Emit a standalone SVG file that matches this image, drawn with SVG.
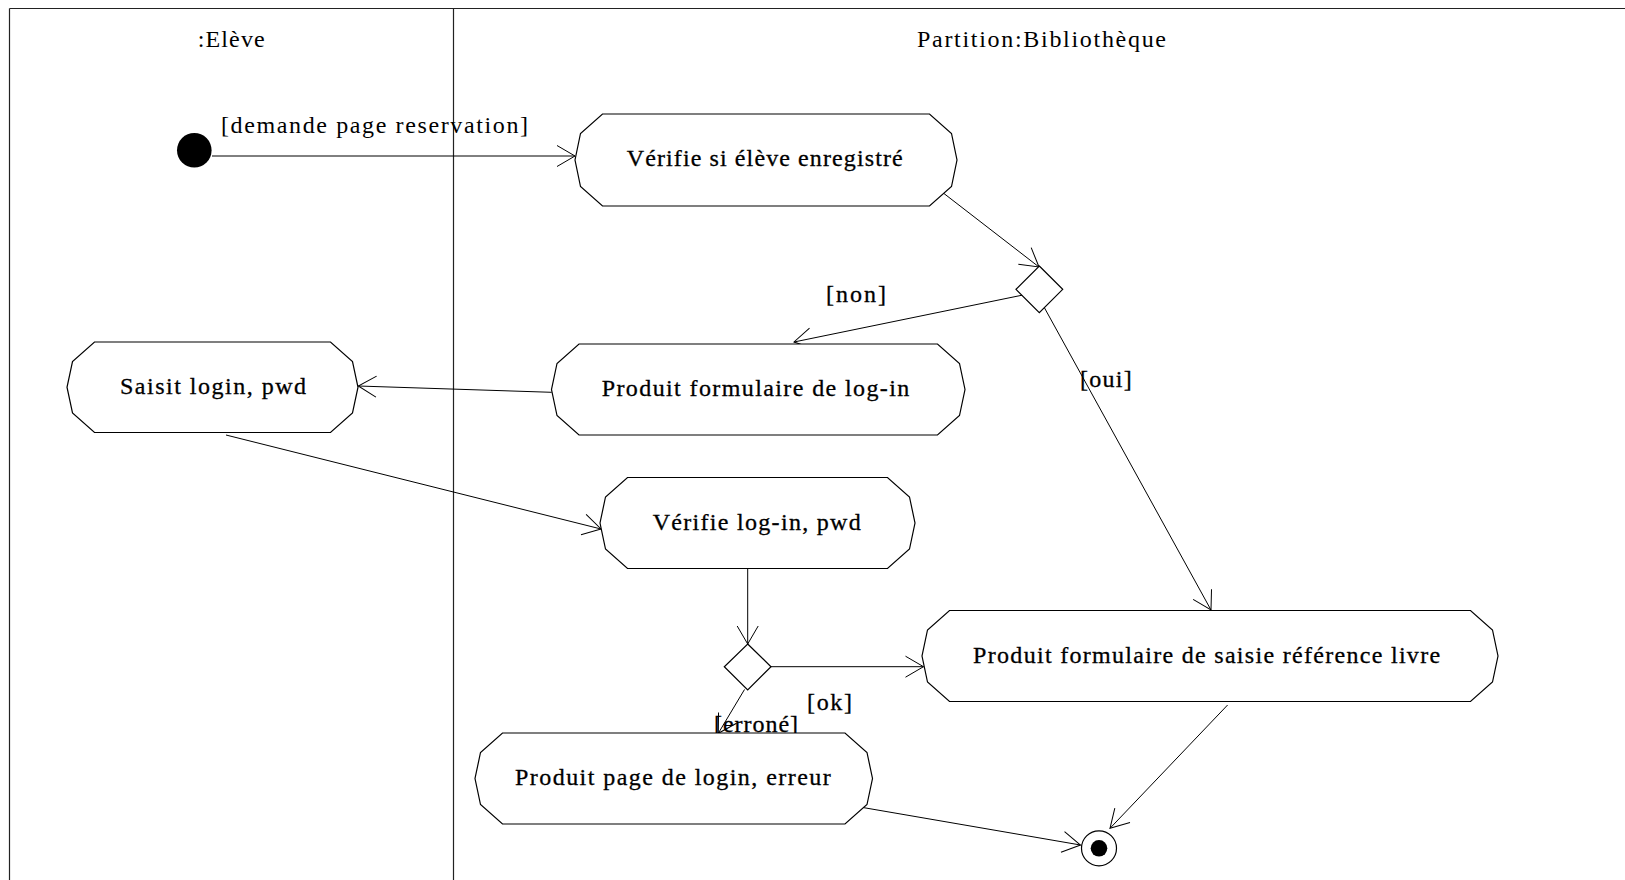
<svg xmlns="http://www.w3.org/2000/svg" width="1625" height="880" viewBox="0 0 1625 880">
<style>
  .frame { stroke: #222; stroke-width: 1.2; fill: none; }
  .box { fill: #fff; stroke: #000; stroke-width: 1.2; }
  .dec { fill: #fff; stroke: #000; stroke-width: 1.2; }
  .conn { fill: none; stroke: #000; stroke-width: 1; marker-end: url(#arr); }
  .lbl { font-family: "Liberation Serif", "Times New Roman", serif; font-size: 24px; fill: #000; }
  .nt { font-family: "Liberation Serif", "Times New Roman", serif; font-size: 24px; fill: #000; stroke: #000; stroke-width: 0.3; }
</style>
<defs>
  <marker id="arr" markerUnits="userSpaceOnUse" markerWidth="24" markerHeight="24" viewBox="-20 -12 24 24" refX="0" refY="0" orient="auto">
    <path d="M-18,-10.5 L0,0 L-18,10.5" fill="none" stroke="#000" stroke-width="1"/>
  </marker>
</defs>
<rect width="1625" height="880" fill="#fff"/>
<g id="swimlanes">
  <line class="frame" x1="9.5" y1="8.5" x2="1625" y2="8.5"/>
  <line class="frame" x1="9.5" y1="8.5" x2="9.5" y2="880"/>
  <line class="frame" x1="453.5" y1="8.5" x2="453.5" y2="880"/>
  <text class="lbl" x="197.7" y="46.7" textLength="67" lengthAdjust="spacing">:Elève</text>
  <text class="lbl" x="917" y="46.7" textLength="249" lengthAdjust="spacing">Partition:Bibliothèque</text>
</g>
<g id="connectors">
  <line class="conn" x1="212" y1="156" x2="575" y2="156"/>
  <line class="conn" x1="942" y1="192" x2="1039" y2="267"/>
  <line class="conn" x1="1023" y1="295" x2="794" y2="342"/>
  <line class="conn" x1="1044" y1="307" x2="1211" y2="610"/>
  <line class="conn" x1="551.7" y1="392.3" x2="358.3" y2="386"/>
  <line class="conn" x1="226" y1="435" x2="601" y2="529"/>
  <line class="conn" x1="747.7" y1="568.5" x2="747.7" y2="644"/>
  <line class="conn" x1="771" y1="666.7" x2="923.5" y2="666.7"/>
  <line class="conn" x1="744.5" y1="689.5" x2="718.3" y2="733.3"/>
  <line class="conn" x1="861.7" y1="807.3" x2="1080.5" y2="845"/>
  <line class="conn" x1="1227.6" y1="705" x2="1110" y2="828.3"/>
  <text class="lbl" x="221" y="133" textLength="307" lengthAdjust="spacing">[demande page reservation]</text>
  <text class="nt" x="826" y="302" textLength="60" lengthAdjust="spacing">[non]</text>
  <text class="nt" x="1080" y="387" textLength="51.7" lengthAdjust="spacing">[oui]</text>
  <text class="nt" x="807" y="710" textLength="45" lengthAdjust="spacing">[ok]</text>
  <text class="nt" x="714" y="732" textLength="84" lengthAdjust="spacing">[erroné]</text>
</g>
<g id="initial">
  <circle cx="194.3" cy="150.3" r="17.3" fill="#000"/>
</g>
<g id="verifie-eleve">
  <path class="box" d="M602.5,114 L929.5,114 L951.5,133.5 L957,160 L951.5,186.5 L929.5,206 L602.5,206 L580.5,186.5 L575,160 L580.5,133.5 Z"/>
  <text class="nt" x="626.7" y="165.7" textLength="276" lengthAdjust="spacing">Vérifie si élève enregistré</text>
</g>
<g id="decision1">
  <path class="dec" d="M1039.3,266 L1062.7,289.3 L1039.3,312.7 L1016,289.3 Z"/>
</g>
<g id="saisit-login">
  <path class="box" d="M94.5,342 L330.5,342 L352.5,361.5 L358,387.25 L352.5,413 L330.5,432.5 L94.5,432.5 L72.5,413 L67,387.25 L72.5,361.5 Z"/>
  <text class="nt" x="120" y="394" textLength="186" lengthAdjust="spacing">Saisit login, pwd</text>
</g>
<g id="produit-formulaire-login">
  <path class="box" d="M579,344 L937.5,344 L959.5,363.5 L965,389.5 L959.5,415.5 L937.5,435 L579,435 L557,415.5 L551.5,389.5 L557,363.5 Z"/>
  <text class="nt" x="601.7" y="396" textLength="307.6" lengthAdjust="spacing">Produit formulaire de log-in</text>
</g>
<g id="verifie-login">
  <path class="box" d="M627.5,477.5 L887.5,477.5 L909.5,497 L915,523 L909.5,549 L887.5,568.5 L627.5,568.5 L605.5,549 L600,523 L605.5,497 Z"/>
  <text class="nt" x="652.7" y="530" textLength="208" lengthAdjust="spacing">Vérifie log-in, pwd</text>
</g>
<g id="decision2">
  <path class="dec" d="M747.7,644 L771,666.7 L747.7,690 L724.3,666.7 Z"/>
</g>
<g id="produit-saisie-reference">
  <path class="box" d="M949.5,610.5 L1470.5,610.5 L1492.5,630 L1498,656 L1492.5,682 L1470.5,701.5 L949.5,701.5 L927.5,682 L922,656 L927.5,630 Z"/>
  <text class="nt" x="973.1" y="663.3" textLength="467" lengthAdjust="spacing">Produit formulaire de saisie référence livre</text>
</g>
<g id="produit-page-erreur">
  <path class="box" d="M502.5,733 L845,733 L867,752.5 L872.5,778.5 L867,804.5 L845,824 L502.5,824 L480.5,804.5 L475,778.5 L480.5,752.5 Z"/>
  <text class="nt" x="515" y="785" textLength="315.7" lengthAdjust="spacing">Produit page de login, erreur</text>
</g>
<g id="final">
  <circle cx="1099" cy="848.3" r="17.5" fill="#fff" stroke="#000" stroke-width="1.2"/>
  <circle cx="1099" cy="848.3" r="8.3" fill="#000"/>
</g>
</svg>
